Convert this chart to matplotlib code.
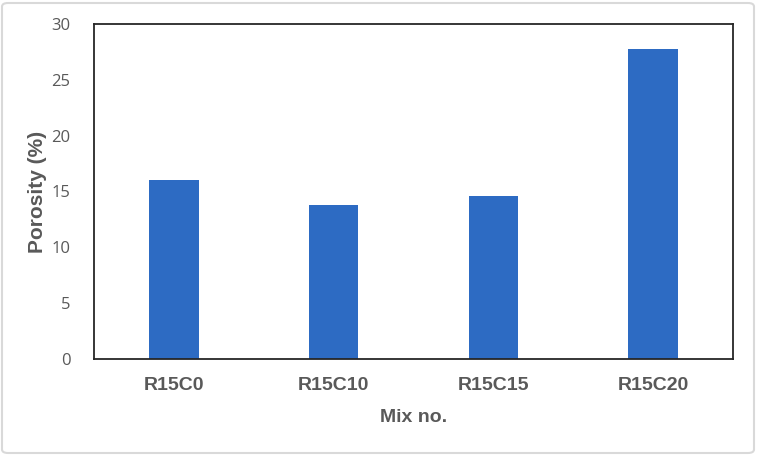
import matplotlib
matplotlib.use("Agg")
import matplotlib.pyplot as plt
from matplotlib.patches import FancyBboxPatch

categories = ["R15C0", "R15C10", "R15C15", "R15C20"]
porosity = [16.0, 13.8, 14.6, 27.8]
yticks = [0, 5, 10, 15, 20, 25, 30]

W, H = 757, 455
fig = plt.figure(figsize=(W / 100, H / 100), dpi=100)
ax = fig.add_axes([94 / W, 1 - 359 / H, (733 - 94) / W, (359 - 24) / H])

x = range(len(categories))
ax.bar(x, porosity, width=0.31, color="#2D6BC3", zorder=2)
ax.set_xlim(-0.5, len(categories) - 0.5)
ax.set_ylim(0, 30)
ax.set_yticks(yticks)
ax.set_yticklabels([str(v) for v in yticks], fontsize=12, color="#595959", family="Open Sans")
ax.set_xticks(list(x))
ax.set_xticklabels(categories, fontsize=14, fontweight="bold", color="#595959", family="Liberation Sans")
ax.tick_params(axis="both", length=0)
ax.tick_params(axis="x", pad=13)
ax.tick_params(axis="y", pad=17)
for s in ax.spines.values():
    s.set_color("#262626")
    s.set_linewidth(1.3)

ax.set_ylabel("Porosity (%)", fontsize=15, fontweight="bold", color="#595959", family="Liberation Sans")
ax.yaxis.set_label_coords((47 - 94) / (733 - 94), 0.5)
ax.set_xlabel("Mix no.", fontsize=14, fontweight="bold", color="#595959", family="Liberation Sans", labelpad=11)

border = FancyBboxPatch((2 / W, 2 / H), 1 - 5 / W, 1 - 5 / H,
                        boxstyle="round,pad=0,rounding_size=0.008",
                        transform=fig.transFigure, fill=False,
                        edgecolor="#D9D9D9", linewidth=1.5)
fig.patches.append(border)

fig.savefig("out.png", dpi=100)
